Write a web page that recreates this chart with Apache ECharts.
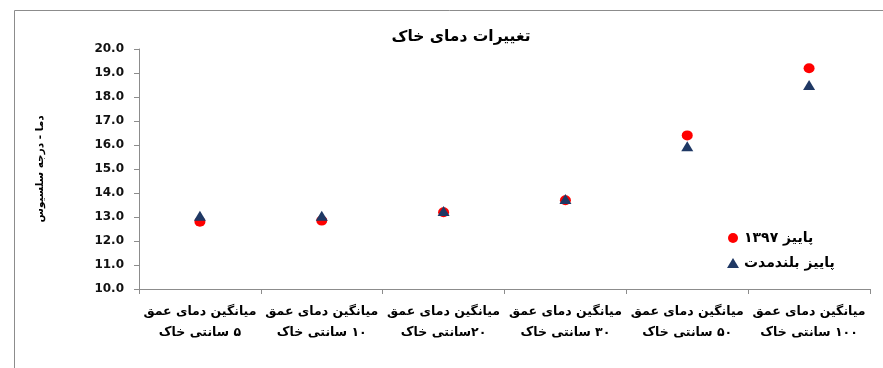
<!DOCTYPE html>
<html>
<head>
<meta charset="utf-8">
<script src="https://cdn.jsdelivr.net/npm/echarts@6/dist/echarts.min.js"></script>
<style>
  html, body { margin: 0; padding: 0; background: #fff; }
  #chart { width: 883px; height: 368px; }
</style>
</head>
<body>
<div id="chart" dir="rtl"></div>
<script>
// دسته‌ها (عمق خاک)
const categories = [
  'میانگین دمای عمق\n۵ سانتی خاک',
  'میانگین دمای عمق\n۱۰ سانتی خاک',
  'میانگین دمای عمق\n۲۰سانتی خاک',
  'میانگین دمای عمق\n۳۰ سانتی خاک',
  'میانگین دمای عمق\n۵۰ سانتی خاک',
  'میانگین دمای عمق\n۱۰۰ سانتی خاک'
]
// پاییز ۱۳۹۷
const autumn1397 = [12.8, 12.85, 13.2, 13.7, 16.4, 19.2]
// پاییز بلندمدت
const autumnLongTerm = [13.05, 13.05, 13.25, 13.75, 15.95, 18.5]
const yTicks = { min: 10, max: 20, interval: 1 }

const faFont = 'DejaVu Sans'
const myEcharts = echarts.init(document.getElementById('chart'))
const option = {
  animation: false,
  backgroundColor: '#fff',
  title: {
    text: 'تغییرات دمای خاک',
    left: 456,
    top: 24,
    textAlign: 'center',
    textStyle: { fontFamily: faFont, fontWeight: 'bold', fontSize: 15.5, color: '#000' }
  },
  graphic: [
    {
      type: 'rect',
      shape: { x: 14.5, y: 10.5, width: 900, height: 400 },
      style: { fill: 'none', stroke: '#8c8c8c', lineWidth: 1 },
      silent: true
    }
  ],
  legend: {
    orient: 'vertical',
    left: 722,
    top: 226,
    itemGap: 11,
    itemWidth: 12,
    itemHeight: 10,
    textStyle: { fontFamily: faFont, fontWeight: 'bold', fontSize: 14, color: '#000' },
    data: [
      { name: 'پاییز ۱۳۹۷', icon: 'circle' },
      { name: 'پاییز بلندمدت', icon: 'triangle' }
    ]
  },
  grid: { left: 139, right: 13, top: 49, bottom: 79, containLabel: false },
  xAxis: {
    type: 'category',
    data: categories,
    boundaryGap: true,
    axisLine: { lineStyle: { color: '#8c8c8c', width: 1 } },
    axisTick: { show: true, length: 5, inside: false, lineStyle: { color: '#8c8c8c' } },
    axisLabel: {
      interval: 0,
      margin: 12,
      lineHeight: 21,
      fontFamily: faFont,
      fontWeight: 'bold',
      fontSize: 12.5,
      color: '#000'
    },
    splitLine: { show: false }
  },
  yAxis: {
    type: 'value',
    min: yTicks.min,
    max: yTicks.max,
    interval: yTicks.interval,
    name: 'دما - درجه سلسیوس',
    nameLocation: 'middle',
    nameRotate: 90,
    nameGap: 93,
    nameTextStyle: { fontFamily: faFont, fontWeight: 'bold', fontSize: 10.5, color: '#000' },
    axisLine: { show: true, lineStyle: { color: '#8c8c8c', width: 1 } },
    axisTick: { show: true, length: 5, lineStyle: { color: '#8c8c8c' } },
    axisLabel: {
      margin: 15,
      fontFamily: faFont,
      fontWeight: 'bold',
      fontSize: 12,
      color: '#111',
      formatter: (v) => v.toFixed(1)
    },
    splitLine: { show: false }
  },
  series: [
    {
      name: 'پاییز ۱۳۹۷',
      type: 'scatter',
      symbol: 'circle',
      symbolSize: [11, 10],
      itemStyle: { color: '#ff0000', opacity: 1 },
      data: autumn1397
    },
    {
      name: 'پاییز بلندمدت',
      type: 'scatter',
      symbol: 'triangle',
      symbolSize: [12, 10],
      itemStyle: { color: '#1f3864', opacity: 1 },
      data: autumnLongTerm
    }
  ]
}
myEcharts.setOption(option)
</script>
</body>
</html>
